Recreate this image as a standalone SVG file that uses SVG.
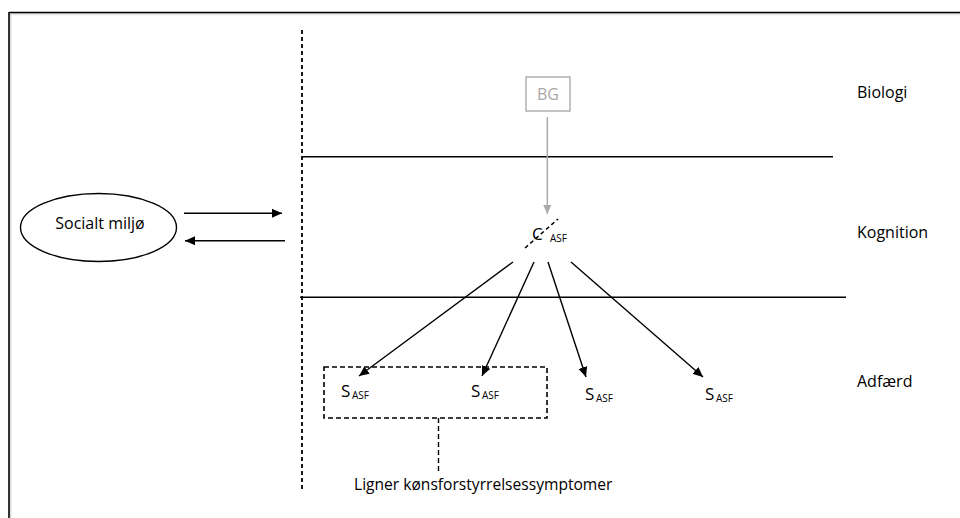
<svg xmlns="http://www.w3.org/2000/svg" width="960" height="518" viewBox="0 0 960 518">
  <defs>
    <marker id="ah" viewBox="0 0 10 10" refX="10" refY="5" markerWidth="10" markerHeight="10" markerUnits="userSpaceOnUse" orient="auto">
      <path d="M0,0.5 L10,5 L0,9.5 Z" fill="#000"/>
    </marker>
    <marker id="ahGray" viewBox="0 0 10 10" refX="10" refY="5" markerWidth="10" markerHeight="9" markerUnits="userSpaceOnUse" orient="auto">
      <path d="M0,0.5 L10,5 L0,9.5 Z" fill="#aaa"/>
    </marker>
    <linearGradient id="shadowTop" x1="0" y1="0" x2="0" y2="1">
      <stop offset="0" stop-color="#c8c8c8"/>
      <stop offset="1" stop-color="#fff" stop-opacity="0"/>
    </linearGradient>
    <linearGradient id="shadowLeft" x1="0" y1="0" x2="1" y2="0">
      <stop offset="0" stop-color="#c8c8c8"/>
      <stop offset="1" stop-color="#fff" stop-opacity="0"/>
    </linearGradient>
  </defs>
  <style>
    text { font-family: "Open Sans", "Noto Sans", "Liberation Sans", sans-serif; fill: #000; }
    .lbl { font-size: 16px; }
    .big { font-size: 17px; }
    .sub { font-size: 10px; }
    .solid { stroke: #000; stroke-width: 1.5; fill: none; }
    .arrow { stroke: #000; stroke-width: 1.4; fill: none; marker-end: url(#ah); }
    .dash { stroke: #000; stroke-width: 1.6; fill: none; stroke-dasharray: 5 3; }
  </style>

  <rect width="960" height="518" fill="#fff"/>

  <!-- outer frame with soft inner shadow -->
  <g id="frame">
    <rect x="10" y="13" width="950" height="4" fill="url(#shadowTop)"/>
    <rect x="10" y="13" width="3" height="505" fill="url(#shadowLeft)"/>
    <line x1="9" y1="12.5" x2="960" y2="12.5" stroke="#000" stroke-width="1.6"/>
    <line x1="9" y1="12" x2="9" y2="518" stroke="#000" stroke-width="1.6"/>
  </g>

  <!-- layer boundaries -->
  <g id="layers">
    <line x1="302" y1="30" x2="302" y2="492" stroke="#000" stroke-width="1.8" stroke-dasharray="4 3"/>
    <line class="solid" x1="302" y1="156.7" x2="833" y2="156.7"/>
    <line class="solid" x1="300" y1="297.3" x2="846" y2="297.3"/>
  </g>

  <!-- layer names -->
  <g id="layer-labels">
    <text class="lbl" x="857" y="98">Biologi</text>
    <text class="lbl" x="857" y="238">Kognition</text>
    <text class="lbl" x="857" y="387">Adfærd</text>
  </g>

  <g id="socialt-miljo">
    <ellipse cx="98.5" cy="227.5" rx="78" ry="34" fill="none" stroke="#000" stroke-width="1.4"/>
    <text class="lbl" x="100" y="229" text-anchor="middle">Socialt miljø</text>
  </g>

  <g id="bg">
    <rect x="526" y="77" width="44" height="34" fill="#fff" stroke="#aaa" stroke-width="1.4"/>
    <text class="lbl" x="548" y="100" text-anchor="middle" style="fill:#a8a8a8">BG</text>
  </g>

  <g id="c-asf">
    <line x1="525" y1="248" x2="558" y2="219" stroke="#000" stroke-width="1.5" stroke-dasharray="4 3"/>
    <text class="big" x="532" y="240">C</text>
    <text class="sub" x="550" y="242">ASF</text>
  </g>

  <g id="s1">
    <text class="big" x="341" y="397">S</text>
    <text class="sub" x="352" y="398.5">ASF</text>
  </g>
  <g id="s2">
    <text class="big" x="471" y="397">S</text>
    <text class="sub" x="482" y="398.5">ASF</text>
  </g>
  <g id="s3">
    <text class="big" x="585" y="400">S</text>
    <text class="sub" x="596" y="402">ASF</text>
  </g>
  <g id="s4">
    <text class="big" x="705" y="400">S</text>
    <text class="sub" x="716" y="402">ASF</text>
  </g>

  <g id="symptom-group">
    <rect class="dash" x="324" y="367" width="223" height="51"/>
    <text class="lbl" x="354" y="490" style="font-size:15.6px">Ligner kønsforstyrrelsessymptomer</text>
  </g>

  <g id="connectors">
    <line class="arrow" x1="184" y1="213.3" x2="282" y2="213.3"/>
    <line class="arrow" x1="285" y1="240.7" x2="185" y2="240.7"/>
    <line x1="547.3" y1="117" x2="547.3" y2="214" stroke="#aaa" stroke-width="1.5" marker-end="url(#ahGray)"/>
    <line class="arrow" x1="513" y1="262" x2="359" y2="376"/>
    <line class="arrow" x1="534" y1="262" x2="482" y2="376"/>
    <line class="arrow" x1="548" y1="262" x2="586" y2="377"/>
    <line class="arrow" x1="571" y1="262" x2="703" y2="377"/>
    <line x1="438.5" y1="418" x2="438.5" y2="474" stroke="#000" stroke-width="1.4" stroke-dasharray="5 3"/>
  </g>
</svg>
